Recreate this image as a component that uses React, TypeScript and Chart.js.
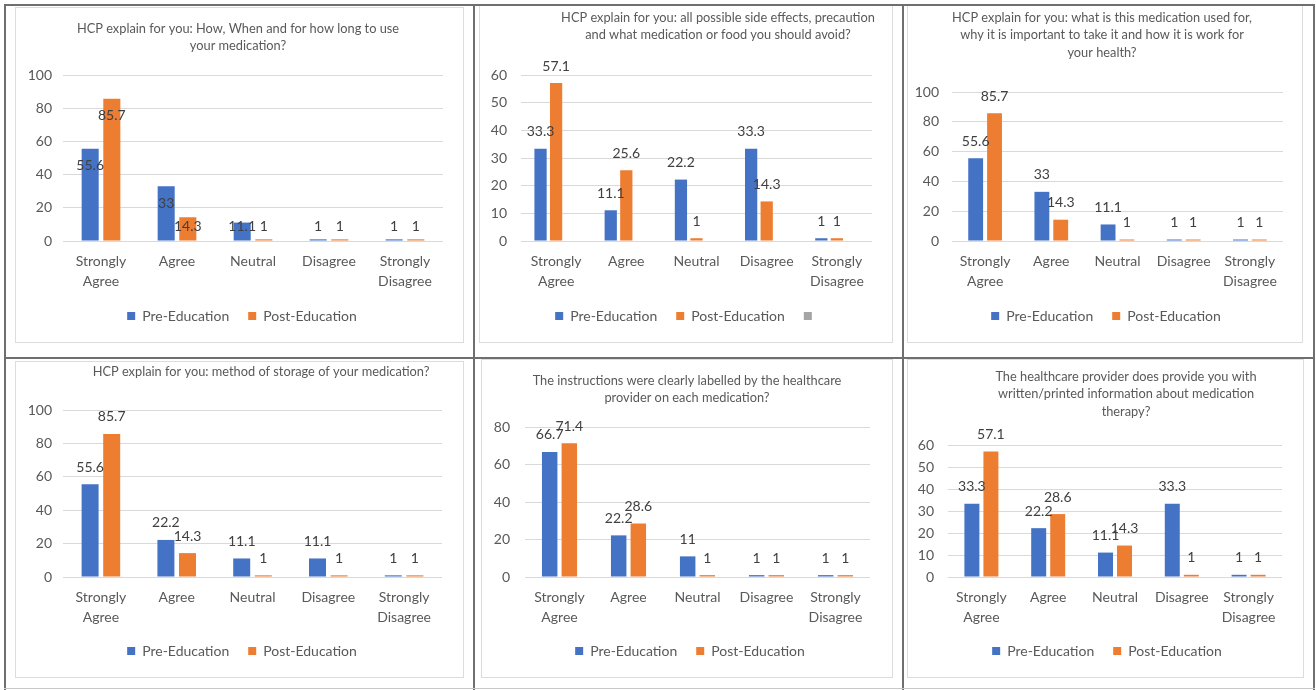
import React, { useEffect, useRef } from 'react';
import { Chart, registerables } from 'chart.js';

Chart.register(...registerables);
Chart.defaults.font.family = 'Lato, "Liberation Sans", sans-serif';

// Survey answer scale shared by every panel
const responseLevels = [['Strongly', 'Agree'], 'Agree', 'Neutral', 'Disagree', ['Strongly', 'Disagree']];
const seriesNames = ['Pre-Education', 'Post-Education'];

// Percentages per answer, before and after the education session
const usagePre = [55.6, 33, 11.1, 1, 1];
const usagePost = [85.7, 14.3, 1, 1, 1];

const sideEffectsPre = [33.3, 11.1, 22.2, 33.3, 1];
const sideEffectsPost = [57.1, 25.6, 1, 14.3, 1];

const purposePre = [55.6, 33, 11.1, 1, 1];
const purposePost = [85.7, 14.3, 1, 1, 1];

const storagePre = [55.6, 22.2, 11.1, 11.1, 1];
const storagePost = [85.7, 14.3, 1, 1, 1];

const labellingPre = [66.7, 22.2, 11, 1, 1];
const labellingPost = [71.4, 28.6, 1, 1, 1];

const writtenPre = [33.3, 22.2, 11.1, 33.3, 1];
const writtenPost = [57.1, 28.6, 14.3, 1, 1];

// Value-axis ranges (max, step) per panel
const usageAxis = [100, 20];
const sideEffectsAxis = [60, 10];
const purposeAxis = [100, 20];
const storageAxis = [100, 20];
const labellingAxis = [80, 20];
const writtenAxis = [60, 10];

const BLUE = '#4472C4';
const ORANGE = '#ED7D31';
const GREY = '#A5A5A5';
const TEXT = '#595959';
const LABEL = '#404040';
const GRID = '#D9D9D9';

type Box = { l: number; t: number; r: number; b: number };
type PanelSpec = {
  title: string[];
  titleX: number;
  titleY: number;
  pre: number[];
  post: number[];
  blank?: boolean;
  axis: number[];
  box: Box;
  plot: Box;
  legendX: number;
  legendY: number;
  tickGap: number;
  labelMode: 'inside' | 'outside';
};

const panels: PanelSpec[] = [
  {
    title: ['HCP explain for you: How, When and for how long to use', 'your medication?'],
    titleX: 238, titleY: 29,
    pre: usagePre, post: usagePost, axis: usageAxis,
    box: { l: 16, t: 8, r: 463, b: 342 },
    plot: { l: 63, t: 75, r: 443, b: 241 },
    legendX: 242, legendY: 316, tickGap: 11, labelMode: 'inside',
  },
  {
    title: ['HCP explain for you: all possible side effects, precaution', 'and what medication or food you should avoid?'],
    titleX: 718, titleY: 18,
    pre: sideEffectsPre, post: sideEffectsPost, axis: sideEffectsAxis, blank: true,
    box: { l: 480, t: 6, r: 892, b: 342 },
    plot: { l: 521, t: 75, r: 872, b: 241 },
    legendX: 687, legendY: 316, tickGap: 14, labelMode: 'outside',
  },
  {
    title: ['HCP explain for you: what is this medication used for,', 'why it is important to take it and how it is work for', 'your health?'],
    titleX: 1102, titleY: 18,
    pre: purposePre, post: purposePost, axis: purposeAxis,
    box: { l: 908, t: 6, r: 1302, b: 342 },
    plot: { l: 952, t: 92, r: 1283, b: 241 },
    legendX: 1106, legendY: 316, tickGap: 13, labelMode: 'outside',
  },
  {
    title: ['HCP explain for you: method of storage of your medication?'],
    titleX: 261, titleY: 372,
    pre: storagePre, post: storagePost, axis: storageAxis,
    box: { l: 16, t: 362, r: 463, b: 677 },
    plot: { l: 63, t: 410, r: 442, b: 577 },
    legendX: 242, legendY: 651, tickGap: 11, labelMode: 'outside',
  },
  {
    title: ['The instructions were clearly labelled by the healthcare', 'provider on each medication?'],
    titleX: 687, titleY: 381,
    pre: labellingPre, post: labellingPost, axis: labellingAxis,
    box: { l: 482, t: 360, r: 892, b: 677 },
    plot: { l: 525, t: 427, r: 870, b: 577 },
    legendX: 690, legendY: 651, tickGap: 15, labelMode: 'outside',
  },
  {
    title: ['The healthcare provider does provide you with', 'written/printed information about medication', 'therapy?'],
    titleX: 1126, titleY: 377,
    pre: writtenPre, post: writtenPost, axis: writtenAxis,
    box: { l: 908, t: 360, r: 1303, b: 677 },
    plot: { l: 948, t: 445, r: 1282, b: 577 },
    legendX: 1107, legendY: 651, tickGap: 14, labelMode: 'outside',
  },
];

const FONT = 14;
const LEGEND_PAD = 19;
const ITEM_H = 14;

function Panel({ spec }: { spec: PanelSpec }) {
  const ref = useRef<HTMLCanvasElement | null>(null);
  const { box, plot } = spec;
  const W = box.r - box.l;
  const H = box.b - box.t;

  useEffect(() => {
    if (!ref.current) return;
    const pR = box.r - plot.r;
    const pL = 0;
    const pT = plot.t - box.t;
    const legendTop = spec.legendY - LEGEND_PAD - ITEM_H / 2;
    const pB = box.b - (spec.legendY + ITEM_H / 2 + 10);
    const yW = plot.l - box.l - pL;
    const xH = legendTop - plot.b;

    const datasets: any[] = [
      { label: seriesNames[0], data: spec.pre, backgroundColor: BLUE },
      { label: seriesNames[1], data: spec.post, backgroundColor: ORANGE },
    ];
    if (spec.blank) {
      datasets.push({ label: '', data: spec.pre.map(() => null), backgroundColor: GREY });
    }
    const n = datasets.length;
    const catPct = (n * 1.27) / (n * 1.27 + 1.92);
    datasets.forEach((d) => {
      d.categoryPercentage = catPct;
      d.barPercentage = 1 / 1.27;
      d.borderWidth = 0;
    });

    // Centre the legend row on the requested x position
    const legendShift = {
      id: 'legendShift',
      afterLayout(chart: any) {
        const lg = chart.legend;
        if (!lg) return;
        const target = spec.legendX - box.l;
        const dx = target - (lg.left + lg.right) / 2;
        lg.left += dx;
        lg.right += dx;
      },
    };

    const titlePlugin = {
      id: 'panelTitle',
      afterDraw(chart: Chart) {
        const ctx = chart.ctx;
        ctx.save();
        ctx.font = '12.8px Lato, "Liberation Sans", sans-serif';
        ctx.fillStyle = TEXT;
        ctx.textAlign = 'center';
        ctx.textBaseline = 'middle';
        spec.title.forEach((line, i) => {
          ctx.fillText(line, spec.titleX - box.l, spec.titleY - box.t + i * 17.3);
        });
        ctx.restore();
      },
    };

    const valueLabels = {
      id: 'valueLabels',
      afterDatasetsDraw(chart: Chart) {
        const ctx = chart.ctx;
        ctx.save();
        ctx.font = `${FONT}px Lato, "Liberation Sans", sans-serif`;
        ctx.fillStyle = LABEL;
        ctx.textAlign = 'center';
        ctx.textBaseline = 'middle';
        [0, 1].forEach((di) => {
          const meta = chart.getDatasetMeta(di);
          meta.data.forEach((bar: any, i: number) => {
            const v = chart.data.datasets[di].data[i] as number;
            const { x, y, base } = bar.getProps(['x', 'y', 'base'], true);
            const ly = spec.labelMode === 'inside' ? Math.min(y + 17, base - 14) : y - 17;
            ctx.fillText(String(v), x, ly);
          });
        });
        ctx.restore();
      },
    };

    const chart = new Chart(ref.current, {
      type: 'bar',
      data: { labels: responseLevels, datasets },
      options: {
        animation: false,
        responsive: false,
        events: [],
        layout: { padding: { top: pT, left: pL, right: pR, bottom: pB } },
        plugins: {
          title: { display: false },
          tooltip: { enabled: false },
          legend: {
            position: 'bottom',
            labels: {
              boxWidth: 8,
              boxHeight: 8,
              padding: LEGEND_PAD,
              color: TEXT,
              font: { size: FONT },
            },
          },
        },
        scales: {
          x: {
            grid: { display: false, drawTicks: false },
            border: { display: false },
            ticks: {
              color: TEXT,
              font: { size: FONT, lineHeight: 1.4 },
              padding: 11,
              autoSkip: false,
              maxRotation: 0,
              minRotation: 0,
            },
            afterFit: (s: any) => { s.height = xH; },
          },
          y: {
            min: 0,
            max: spec.axis[0],
            grid: { color: GRID, drawTicks: false, lineWidth: 1 },
            border: { display: false },
            ticks: {
              stepSize: spec.axis[1],
              color: TEXT,
              font: { size: FONT },
              padding: spec.tickGap,
            },
            afterFit: (s: any) => { s.width = yW; },
          },
        },
      },
      plugins: [legendShift, titlePlugin, valueLabels],
    });
    return () => chart.destroy();
  }, [spec]);

  return (
    <div
      style={{
        position: 'absolute',
        left: box.l,
        top: box.t,
        width: W,
        height: H,
        boxSizing: 'border-box',
        outline: '1px solid #DCDCDC',
      }}
    >
      <canvas ref={ref} width={W} height={H} style={{ display: 'block', width: W, height: H }} />
    </div>
  );
}

function Rule({ x, y, w, h, c }: { x: number; y: number; w: number; h: number; c: string }) {
  return <div style={{ position: 'absolute', left: x, top: y, width: w, height: h, background: c }} />;
}

export default function App() {
  const dark = '#6f6f6f';
  return (
    <div
      style={{
        position: 'fixed',
        left: 0,
        top: 0,
        width: 1316,
        height: 690,
        background: '#ffffff',
        overflow: 'hidden',
      }}
    >
      {panels.map((p, i) => (
        <Panel key={i} spec={p} />
      ))}
      <Rule x={4} y={4} w={1311} h={2} c={dark} />
      <Rule x={4} y={4} w={2} h={686} c={dark} />
      <Rule x={473} y={4} w={2} h={686} c={dark} />
      <Rule x={902} y={4} w={2} h={686} c={dark} />
      <Rule x={1313} y={4} w={2} h={686} c={dark} />
      <Rule x={4} y={357} w={1311} h={2} c={dark} />
      <Rule x={4} y={688} w={1311} h={1} c="#c8c8c8" />
    </div>
  );
}
